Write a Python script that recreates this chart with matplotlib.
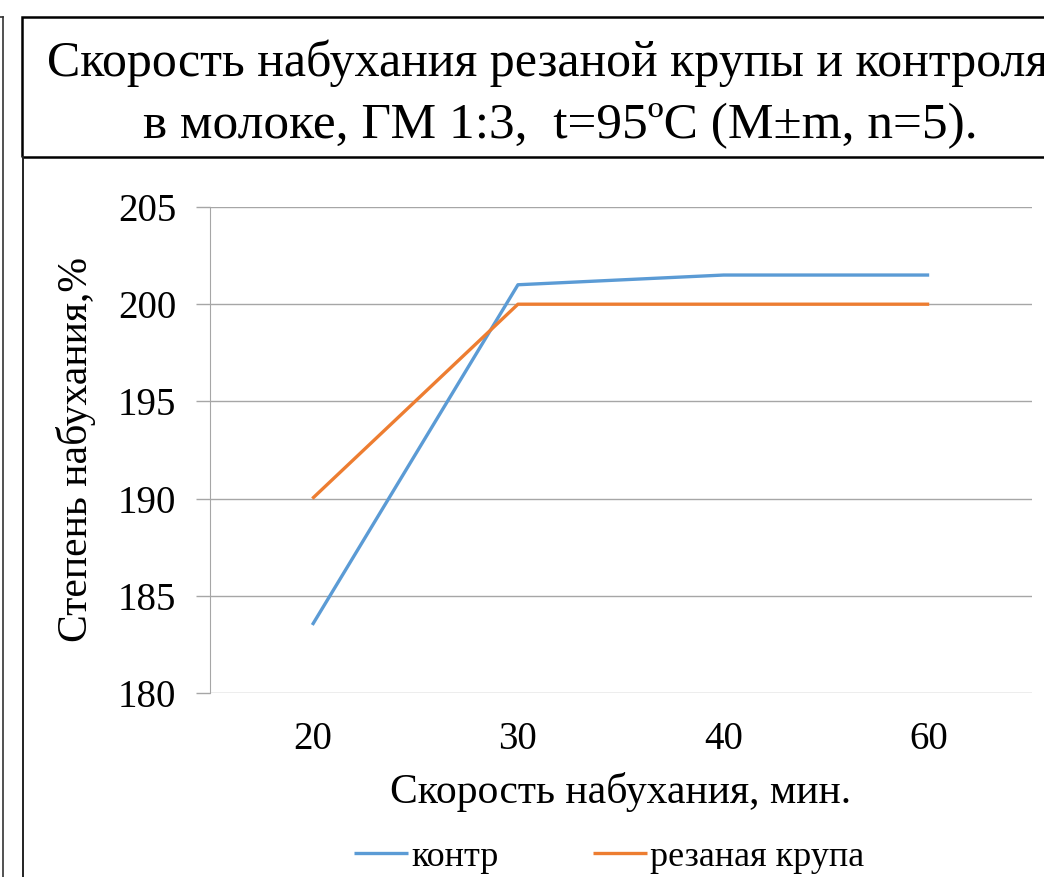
import matplotlib
matplotlib.use("Agg")
import matplotlib.pyplot as plt
from matplotlib.lines import Line2D
from matplotlib.patches import Rectangle

plt.rcParams["font.family"] = ["Liberation Serif", "DejaVu Serif"]

# данные
categories = ["20", "30", "40", "60"]
kontr = [183.5, 201.0, 201.5, 201.5]
rezanaya = [190.0, 200.0, 200.0, 200.0]
series_names = ["контр", "резаная крупа"]
yticks = [180, 185, 190, 195, 200, 205]

W, H = 1044, 877


def fx(px):
    return px / W


def fy(py):
    return 1 - py / H


fig = plt.figure(figsize=(W / 100, H / 100), dpi=100)
fig.patch.set_facecolor("white")

# рамки слайда
fig.add_artist(Rectangle((fx(22), fy(157)), fx(1100) - fx(22), fy(17) - fy(157),
                         transform=fig.transFigure, fill=False, ec="black", lw=1.8))
fig.add_artist(Line2D([fx(3), fx(3)], [fy(17), 0], transform=fig.transFigure, color="#333333", lw=1.2))
fig.add_artist(Line2D([0, fx(3)], [fy(17), fy(17)], transform=fig.transFigure, color="#333333", lw=1.2))
fig.add_artist(Line2D([fx(23), fx(23)], [fy(157), 0], transform=fig.transFigure, color="#222222", lw=1.4))

fig.text(fx(47), fy(63), "Скорость набухания резаной крупы и контроля",
         ha="left", va="center", fontsize=36)
fig.text(fx(560), fy(126), "в молоке, ГМ 1:3,  t=95ºC (M±m, n=5).",
         ha="center", va="center", fontsize=37)

ax = fig.add_axes([fx(209.5), fy(693), fx(1032) - fx(209.5), fy(207) - fy(693)])
x = list(range(len(categories)))
ax.plot(x, kontr, color="#5B9BD5", lw=2.4, solid_capstyle="butt", label=series_names[0])
ax.plot(x, rezanaya, color="#ED7D31", lw=2.4, solid_capstyle="butt", label=series_names[1])

ax.set_xlim(-0.5, len(categories) - 0.5)
ax.set_ylim(180, 205)
ax.set_yticks(yticks)
ax.set_xticks(x)
ax.set_xticklabels(categories)
ax.tick_params(axis="x", length=0, labelsize=28, pad=20)
ax.tick_params(axis="y", length=10, width=1, color="#A6A6A6", labelsize=28, pad=14)
ax.grid(axis="y", color="#A6A6A6", lw=1)
ax.set_axisbelow(True)
for s in ["top", "right", "bottom"]:
    ax.spines[s].set_visible(False)
ax.spines["left"].set_color("#A6A6A6")

ax.set_ylabel("Степень набухания,%", fontsize=30, labelpad=16)
ax.set_xlabel("Скорость набухания, мин.", fontsize=30, labelpad=10)

fig.legend(handles=ax.get_lines(), loc="center", bbox_to_anchor=(fx(609), fy(857)),
           ncol=2, frameon=False, fontsize=26, handlelength=1.5, handletextpad=0.1,
           columnspacing=2.6)

fig.savefig("out.png", dpi=100, facecolor="white")
